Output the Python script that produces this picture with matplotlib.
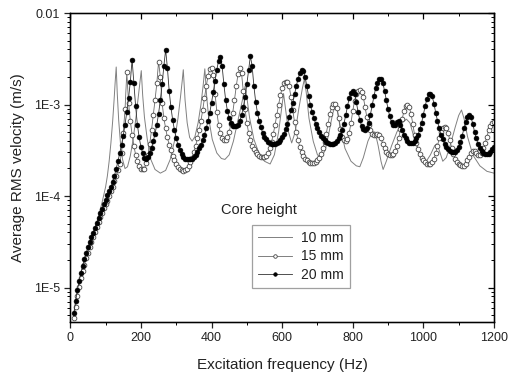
import numpy as np
import matplotlib
matplotlib.use("Agg")
import matplotlib.pyplot as plt
from matplotlib.ticker import LogLocator, MultipleLocator, NullFormatter

plt.rcParams['font.family'] = ['Liberation Sans', 'DejaVu Sans']

# ---- data (log10 of velocity) ----
# 15 mm and 20 mm: sampled every 5 Hz from 10 to 1200 Hz
freq_5hz = np.arange(10, 1201, 5)

log_v20 = [
    -5.28, -5.15, -5.03, -4.93, -4.84, -4.76, -4.69, -4.62, -4.56, -4.50,
    -4.45, -4.40, -4.35, -4.29, -4.24, -4.19, -4.14, -4.09, -4.04, -3.99,
    -3.95, -3.90, -3.85, -3.78, -3.70, -3.62, -3.53, -3.44, -3.34, -3.22,
    -3.08, -2.93, -2.75, -2.51, -2.76, -3.02, -3.22, -3.36, -3.46, -3.53,
    -3.58, -3.59, -3.57, -3.53, -3.47, -3.40, -3.32, -3.22, -3.10, -2.95,
    -2.78, -2.58, -2.40, -2.60, -2.85, -3.03, -3.17, -3.28, -3.37, -3.44,
    -3.50, -3.54, -3.57, -3.59, -3.60, -3.60, -3.60, -3.59, -3.57, -3.55,
    -3.52, -3.48, -3.44, -3.39, -3.33, -3.26, -3.18, -3.09, -2.98, -2.86,
    -2.74, -2.62, -2.52, -2.48, -2.58, -2.78, -2.95, -3.07, -3.15, -3.20,
    -3.23, -3.24, -3.24, -3.22, -3.18, -3.12, -3.03, -2.92, -2.78, -2.62,
    -2.47, -2.58, -2.80, -2.97, -3.09, -3.18, -3.25, -3.31, -3.35, -3.38,
    -3.41, -3.42, -3.43, -3.43, -3.43, -3.42, -3.41, -3.39, -3.36, -3.32,
    -3.27, -3.21, -3.14, -3.06, -2.98, -2.89, -2.80, -2.72, -2.66, -2.62,
    -2.63, -2.70, -2.80, -2.91, -3.00, -3.08, -3.15, -3.21, -3.26, -3.30,
    -3.34, -3.37, -3.39, -3.41, -3.42, -3.43, -3.43, -3.43, -3.42, -3.40,
    -3.37, -3.33, -3.28, -3.21, -3.12, -3.02, -2.93, -2.87, -2.85, -2.88,
    -2.97, -3.08, -3.17, -3.23, -3.27, -3.28, -3.26, -3.20, -3.11, -3.01,
    -2.91, -2.82, -2.76, -2.72, -2.72, -2.76, -2.85, -2.95, -3.05, -3.13,
    -3.19, -3.22, -3.22, -3.19, -3.18, -3.22, -3.28, -3.33, -3.37, -3.40,
    -3.42, -3.42, -3.42, -3.40, -3.37, -3.33, -3.27, -3.20, -3.11, -3.02,
    -2.94, -2.89, -2.88, -2.91, -2.99, -3.09, -3.18, -3.26, -3.33, -3.38,
    -3.43, -3.46, -3.49, -3.51, -3.52, -3.52, -3.52, -3.50, -3.46, -3.41,
    -3.34, -3.26, -3.19, -3.14, -3.12, -3.14, -3.21, -3.30, -3.37, -3.43,
    -3.48, -3.51, -3.53, -3.54, -3.54, -3.54, -3.52, -3.49, -3.46,
]

log_v15 = [
    -5.33, -5.21, -5.09, -4.99, -4.90, -4.82, -4.75, -4.68, -4.62, -4.56,
    -4.50, -4.45, -4.39, -4.34, -4.28, -4.23, -4.18, -4.13, -4.09, -4.05,
    -4.00, -3.95, -3.90, -3.84, -3.78, -3.72, -3.65, -3.53, -3.31, -3.05,
    -2.65, -2.98, -3.18, -3.33, -3.45, -3.55, -3.62, -3.67, -3.70, -3.71,
    -3.70, -3.64, -3.55, -3.43, -3.28, -3.12, -2.95, -2.77, -2.53, -2.70,
    -2.98, -3.15, -3.26, -3.36, -3.44, -3.50, -3.56, -3.61, -3.65, -3.68,
    -3.71, -3.72, -3.73, -3.72, -3.70, -3.67, -3.63, -3.58, -3.52, -3.45,
    -3.37, -3.28, -3.18, -3.06, -2.93, -2.80, -2.69, -2.61, -2.60, -2.68,
    -2.88, -3.08, -3.22, -3.31, -3.37, -3.39, -3.39, -3.36, -3.30, -3.21,
    -3.09, -2.95, -2.80, -2.67, -2.60, -2.66, -2.85, -3.05, -3.20, -3.31,
    -3.39, -3.45, -3.49, -3.52, -3.54, -3.56, -3.57, -3.57, -3.57, -3.56,
    -3.53, -3.48, -3.41, -3.32, -3.22, -3.11, -3.00, -2.90, -2.82, -2.77,
    -2.75, -2.75, -2.80, -2.92, -3.06, -3.19, -3.30, -3.39, -3.46, -3.52,
    -3.56, -3.59, -3.61, -3.63, -3.64, -3.64, -3.64, -3.63, -3.61, -3.58,
    -3.54, -3.48, -3.41, -3.32, -3.21, -3.10, -3.03, -2.99, -2.99, -3.04,
    -3.15, -3.27, -3.35, -3.39, -3.40, -3.38, -3.31, -3.20, -3.07, -2.96,
    -2.89, -2.85, -2.84, -2.86, -2.92, -3.03, -3.14, -3.22, -3.28, -3.32,
    -3.33, -3.33, -3.32, -3.33, -3.37, -3.43, -3.48, -3.52, -3.54, -3.55,
    -3.55, -3.54, -3.51, -3.45, -3.37, -3.27, -3.16, -3.07, -3.02, -3.01,
    -3.03, -3.10, -3.21, -3.33, -3.42, -3.49, -3.54, -3.58, -3.61, -3.63,
    -3.65, -3.65, -3.65, -3.63, -3.59, -3.53, -3.45, -3.37, -3.30, -3.26,
    -3.25, -3.26, -3.31, -3.39, -3.47, -3.54, -3.59, -3.63, -3.65, -3.66,
    -3.67, -3.67, -3.65, -3.61, -3.57, -3.53, -3.51, -3.51, -3.53, -3.55,
    -3.55, -3.53, -3.48, -3.42, -3.35, -3.28, -3.23, -3.20, -3.19,
]

# 10 mm: thin line, points taken at the peaks, troughs and flanks
freq_10 = [10, 20, 30, 40, 50, 60, 70, 80, 90, 100, 105, 110, 115, 120, 124, 127,
           130, 133, 137, 142, 148, 155, 162, 170, 178, 186, 193, 198, 201, 205,
           210, 218, 228, 240, 255, 270, 283, 295, 305, 312, 317, 320, 325, 331,
           338, 345, 353, 362, 370, 376, 381, 386, 392, 402, 415, 428, 438, 450,
           462, 475, 487, 495, 500, 508, 520, 535, 550, 566, 578, 590, 598, 604,
           610, 618, 627, 637, 647, 657, 663, 668, 676, 688, 700, 710, 722, 733,
           743, 750, 756, 765, 778, 795, 810, 820, 830, 843, 855, 863, 872, 880,
           886, 895, 910, 925, 940, 952, 962, 975, 990, 1005, 1020, 1032, 1038,
           1045, 1055, 1065, 1078, 1090, 1100, 1108, 1115, 1125, 1140, 1160,
           1180, 1200]
log_v10 = [-5.30, -5.05, -4.87, -4.72, -4.59, -4.47, -4.35, -4.22, -4.07, -3.90,
           -3.78, -3.62, -3.42, -3.18, -2.95, -2.76, -2.59, -2.88, -3.17, -3.42,
           -3.60, -3.70, -3.68, -3.56, -3.38, -3.14, -2.90, -2.73, -2.63, -2.90,
           -3.14, -3.38, -3.60, -3.71, -3.75, -3.72, -3.60, -3.40, -3.15, -2.92,
           -2.74, -2.62, -2.95, -3.20, -3.36, -3.40, -3.35, -3.20, -3.00, -2.80,
           -2.61, -2.90, -3.15, -3.38, -3.53, -3.59, -3.60, -3.55, -3.40, -3.17,
           -2.96, -2.80, -2.92, -3.15, -3.38, -3.54, -3.62, -3.65, -3.55, -3.30,
           -3.06, -2.88, -3.06, -3.30, -3.42, -3.30, -3.05, -2.83, -2.72, -2.86,
           -3.15, -3.40, -3.55, -3.58, -3.50, -3.30, -3.10, -3.02, -3.05, -3.25,
           -3.48, -3.62, -3.67, -3.68, -3.58, -3.40, -3.30, -3.30, -3.45, -3.62,
           -3.71, -3.62, -3.45, -3.30, -3.20, -3.16, -3.20, -3.38, -3.55, -3.64,
           -3.55, -3.45, -3.43, -3.50, -3.62, -3.58, -3.42, -3.25, -3.12, -3.06,
           -3.15, -3.35, -3.55, -3.67, -3.73, -3.75]

labels = ['10 mm', '15 mm', '20 mm']

v10 = 10.0 ** np.array(log_v10)
v15 = 10.0 ** np.array(log_v15)
v20 = 10.0 ** np.array(log_v20)

# ---- figure ----
fig = plt.figure(figsize=(5.08, 3.78), dpi=100)
ax = fig.add_axes([0.1384, 0.1481, 0.834, 0.8175])

ax.plot(freq_10, v10, color='#808080', lw=0.7, label=labels[0], zorder=2)
ax.plot(freq_5hz, v15, color='#6a6a6a', lw=0.6, marker='o', ms=3.4,
        mfc='white', mec='#444444', mew=0.6, label=labels[1], zorder=3)
ax.plot(freq_5hz, v20, color='#333333', lw=0.6, marker='o', ms=3.5,
        mfc='black', mec='black', mew=0.4, label=labels[2], zorder=4)

ax.set_yscale('log')
ax.set_xlim(0, 1200)
ax.set_ylim(4.2e-6, 1e-2)

ax.set_xticks(range(0, 1201, 200))
ax.xaxis.set_minor_locator(MultipleLocator(100))
ax.set_yticks([1e-5, 1e-4, 1e-3, 1e-2], ['1E-5', '1E-4', '1E-3', '0.01'])
ax.yaxis.set_minor_locator(LogLocator(base=10, subs=np.arange(2, 10)))
ax.yaxis.set_minor_formatter(NullFormatter())
ax.tick_params(which='major', direction='out', length=4, width=0.9,
               labelsize=9, colors='#222222')
ax.tick_params(which='minor', direction='out', length=2.5, width=0.7)
for sp in ax.spines.values():
    sp.set_linewidth(1.0)

# mirrored ticks pointing inward on top and right
axr = ax.twinx()
axr.set_yscale('log')
axr.set_ylim(ax.get_ylim())
axr.set_yticks([1e-5, 1e-4, 1e-3, 1e-2])
axr.yaxis.set_minor_locator(LogLocator(base=10, subs=np.arange(2, 10)))
axr.yaxis.set_minor_formatter(NullFormatter())
axr.tick_params(which='both', direction='in', labelright=False)
axr.tick_params(which='major', length=4, width=0.9)
axr.tick_params(which='minor', length=2.5, width=0.7)

axt = ax.twiny()
axt.set_xlim(ax.get_xlim())
axt.set_xticks(range(0, 1201, 200))
axt.xaxis.set_minor_locator(MultipleLocator(100))
axt.tick_params(which='both', direction='in', labeltop=False)
axt.tick_params(which='major', length=4, width=0.9)
axt.tick_params(which='minor', length=2.5, width=0.7)

ax.set_xlabel('Excitation frequency (Hz)', fontsize=11, color='#222222', labelpad=10)
ax.set_ylabel('Average RMS velocity (m/s)', fontsize=11, color='#222222', labelpad=6)

ax.text(0.355, 0.3625, 'Core height', transform=ax.transAxes, fontsize=10.5,
        ha='left', va='center', color='#222222')
leg = ax.legend(loc='upper left', bbox_to_anchor=(0.429, 0.314), borderaxespad=0,
                fontsize=10, frameon=True, fancybox=False, edgecolor='#888888',
                handlelength=2.4, handletextpad=0.7, borderpad=0.45,
                labelspacing=0.3, markerscale=0.75)
leg.get_frame().set_linewidth(0.9)
for t in leg.get_texts():
    t.set_color('#222222')

fig.savefig('out.png', dpi=100)
